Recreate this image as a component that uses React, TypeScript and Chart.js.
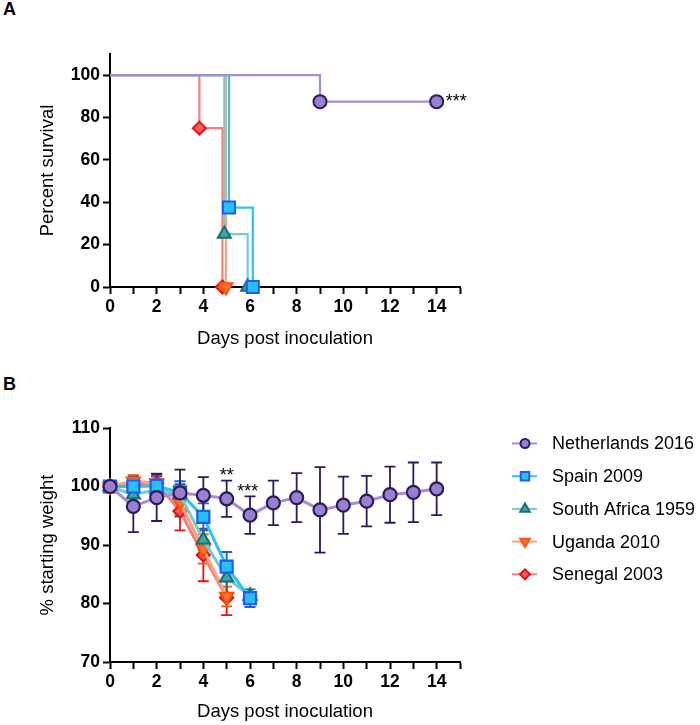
import React, { useEffect, useRef } from 'react';
import { Chart, registerables } from 'chart.js';
import { drawPoint } from 'chart.js/helpers';

Chart.register(...registerables);

const FONT = '"Liberation Sans", Arial, Helvetica, sans-serif';

// ---- Series styling ----
const seriesNames = ['Netherlands 2016', 'Spain 2009', 'South Africa 1959', 'Uganda 2010', 'Senegal 2003'];
const lineColors = ['#a68bd9', '#2cc4f4', '#74cdcc', '#ffa27c', '#f77c7c'];
const markerFills = ['#9a7fd0', '#27c0f4', '#3ea6a9', '#ff7433', '#f65c5c'];
const markerEdges = ['#2c1b5c', '#1f5cf0', '#17717a', '#ff5208', '#ec1212'];
const pointStyles = ['circle', 'rect', 'triangle', 'triangle', 'rectRot'];
const pointRotations = [0, 0, 0, 180, 0];
const pointRadiiA = [6.5, 8.5, 7.5, 7.5, 6.5];
const pointRadiiB = [6.5, 8.5, 7.5, 7.5, 6.5];

// ---- Panel A: survival (Kaplan-Meier steps) ----
const survDaysNetherlands = [0, 9, 14];
const survPctNetherlands = [100, 87.5, 87.5];
const survDaysSpain = [0, 5.1, 6.12];
const survPctSpain = [100, 37.5, 0];
const survDaysSouthAfrica = [0, 4.9, 5.9];
const survPctSouthAfrica = [100, 25, 0];
const survDaysUganda = [0, 4.97];
const survPctUganda = [100, 0];
const survDaysSenegal = [0, 3.83, 4.82];
const survPctSenegal = [100, 75, 0];

const survStarDays = [14];
const survStarLevels = [87.5];
const survStarLabels = ['***'];

// ---- Panel B: weight (mean ± SD) ----
const weightDays = [0, 1, 2, 3, 4, 5, 6, 7, 8, 9, 10, 11, 12, 13, 14];
const weightNetherlands = [100, 96.6, 98.1, 98.9, 98.5, 97.9, 95.1, 97.2, 98.1, 96.0, 96.8, 97.5, 98.6, 99.0, 99.6];
const sdNetherlands = [0, 4.4, 4.0, 4.0, 3.1, 3.1, 3.2, 3.8, 4.2, 7.3, 4.9, 4.3, 4.8, 5.1, 4.5];
const weightSpain = [100, 100.0, 100.1, 99.0, 94.8, 86.3, 80.9];
const sdSpain = [0, 1.7, 1.6, 1.9, 2.3, 2.5, 1.5];
const weightSouthAfrica = [100, 98.6, 99.5, 98.6, 90.9, 84.4, 81.3];
const sdSouthAfrica = [0, 1.5, 1.2, 1.8, 1.8, 2.6, 0.6];
const weightUganda = [100, 100.9, 100.6, 97.3, 89.3, 81.2];
const sdUganda = [0, 1.0, 1.2, 2.0, 2.5, 1.7];
const weightSenegal = [100, 100.4, 100.6, 95.8, 88.3, 81.0];
const sdSenegal = [0, 1.5, 1.6, 3.3, 4.5, 3.0];

const weightStarDays = [5, 5.9];
const weightStarLevels = [102.6, 99.9];
const weightStarLabels = ['**', '***'];

const xTickLabels = ['0', '2', '4', '6', '8', '10', '12', '14'];

function pts(xs: number[], ys: number[]) {
  return ys.map((y, i) => ({ x: xs[i], y }));
}

function xAxis(boxHeight: number, titlePadBottom: number) {
  return {
    type: 'linear',
    min: 0,
    max: 15,
    afterBuildTicks: (s: any) => {
      const t = [];
      for (let v = 0; v <= 15; v++) t.push({ value: v });
      s.ticks = t;
    },
    ticks: {
      autoSkip: false,
      maxRotation: 0,
      padding: 3,
      color: '#000',
      font: { family: FONT, size: 17.5, weight: 'bold' },
      callback: (v: number) => (xTickLabels.includes(String(v)) ? String(v) : ''),
    },
    grid: { drawOnChartArea: false, drawTicks: true, tickLength: 7, tickColor: '#000', tickWidth: 2 },
    border: { display: true, color: '#000', width: 2 },
    title: {
      display: true,
      text: 'Days post inoculation',
      color: '#000',
      font: { family: FONT, size: 18.5 },
      padding: { top: 0, bottom: titlePadBottom },
    },
    afterFit: (s: any) => {
      s.height = boxHeight;
    },
  };
}

function yAxis(min: number, max: number, step: number, maxLabel: number, title: string) {
  return {
    type: 'linear',
    min,
    max,
    afterBuildTicks: (s: any) => {
      const t = [];
      for (let v = min; v <= maxLabel + 1e-9; v += step) t.push({ value: v });
      s.ticks = t;
    },
    ticks: {
      padding: 3,
      color: '#000',
      font: { family: FONT, size: 17.5, weight: 'bold' },
    },
    grid: { drawOnChartArea: false, drawTicks: true, tickLength: 7, tickColor: '#000', tickWidth: 2 },
    border: { display: true, color: '#000', width: 2 },
    title: {
      display: true,
      text: title,
      color: '#000',
      font: { family: FONT, size: 18.5 },
      padding: { top: 37, bottom: 0 },
    },
    afterFit: (s: any) => {
      s.width = 110;
    },
  };
}

function starsPlugin(days: number[], levels: number[], labels: string[], align: 'left' | 'center', dx: number, dy: number) {
  return {
    id: 'stars',
    afterDatasetsDraw(chart: any) {
      const { ctx, scales } = chart;
      ctx.save();
      ctx.fillStyle = '#000';
      ctx.font = `18px ${FONT}`;
      ctx.textAlign = align;
      ctx.textBaseline = 'alphabetic';
      labels.forEach((lab, i) => {
        const x = scales.x.getPixelForValue(days[i]) + dx;
        const y = scales.y.getPixelForValue(levels[i]) + dy;
        ctx.fillText(lab, x, y);
      });
      ctx.restore();
    },
  };
}

const errorBarPlugin = {
  id: 'errorBars',
  beforeDatasetsDraw(chart: any) {
    const { ctx, scales } = chart;
    ctx.save();
    for (let d = chart.data.datasets.length - 1; d >= 0; d--) {
      const ds = chart.data.datasets[d];
      const errs: number[] = ds.errors || [];
      ctx.strokeStyle = ds.errorColor;
      ctx.lineWidth = 1.8;
      ds.data.forEach((p: any, i: number) => {
        const e = errs[i];
        if (!e) return;
        const x = scales.x.getPixelForValue(p.x);
        const yt = scales.y.getPixelForValue(p.y + e);
        const yb = scales.y.getPixelForValue(p.y - e);
        ctx.beginPath();
        ctx.moveTo(x, yt);
        ctx.lineTo(x, yb);
        ctx.moveTo(x - 5.5, yt);
        ctx.lineTo(x + 5.5, yt);
        ctx.moveTo(x - 5.5, yb);
        ctx.lineTo(x + 5.5, yb);
        ctx.stroke();
      });
    }
    ctx.restore();
  },
};

const legendPlugin = {
  id: 'sideLegend',
  afterDraw(chart: any) {
    const { ctx } = chart;
    ctx.save();
    seriesNames.forEach((name, i) => {
      const y = 83.5 + i * 32.7;
      ctx.strokeStyle = lineColors[i];
      ctx.lineWidth = 2;
      ctx.beginPath();
      ctx.moveTo(512, y);
      ctx.lineTo(537, y);
      ctx.stroke();
      ctx.fillStyle = markerFills[i];
      ctx.strokeStyle = markerEdges[i];
      ctx.lineWidth = 2;
      drawPoint(
        ctx,
        {
          pointStyle: pointStyles[i],
          radius: [4.5, 6, 5.5, 5.5, 5][i],
          rotation: pointRotations[i],
          borderWidth: 2,
        } as any,
        525,
        y
      );
      ctx.fillStyle = '#000';
      ctx.font = `18px ${FONT}`;
      ctx.textAlign = 'left';
      ctx.textBaseline = 'middle';
      ctx.fillText(name, 552, y + 1);
    });
    ctx.restore();
  },
};

function survivalDataset(i: number, days: number[], pct: number[]) {
  return {
    label: seriesNames[i],
    data: pts(days, pct),
    showLine: true,
    stepped: 'before',
    borderColor: lineColors[i],
    borderWidth: 2.2,
    pointStyle: pointStyles[i],
    pointRotation: pointRotations[i],
    pointRadius: days.map((_, k) => (k === 0 ? 0 : pointRadiiA[i])),
    pointBackgroundColor: markerFills[i],
    pointBorderColor: markerEdges[i],
    pointBorderWidth: 2,
    fill: false,
    clip: false,
  };
}

function weightDataset(i: number, mean: number[], sd: number[]) {
  return {
    label: seriesNames[i],
    data: pts(weightDays, mean),
    errors: sd,
    errorColor: markerEdges[i],
    showLine: true,
    borderColor: lineColors[i],
    borderWidth: 3,
    pointStyle: pointStyles[i],
    pointRotation: pointRotations[i],
    pointRadius: pointRadiiB[i],
    pointBackgroundColor: markerFills[i],
    pointBorderColor: markerEdges[i],
    pointBorderWidth: 2.2,
    fill: false,
    clip: false,
  };
}

export default function App() {
  const refA = useRef<HTMLCanvasElement>(null);
  const refB = useRef<HTMLCanvasElement>(null);

  useEffect(() => {
    document.body.style.margin = '0';
    const chartA = new Chart(refA.current as HTMLCanvasElement, {
      type: 'scatter',
      data: {
        datasets: [
          survivalDataset(0, survDaysNetherlands, survPctNetherlands),
          survivalDataset(1, survDaysSpain, survPctSpain),
          survivalDataset(2, survDaysSouthAfrica, survPctSouthAfrica),
          survivalDataset(3, survDaysUganda, survPctUganda),
          survivalDataset(4, survDaysSenegal, survPctSenegal),
        ] as any,
      },
      options: {
        responsive: false,
        animation: false,
        layout: { padding: { top: 54, right: 240, left: 0, bottom: 0 } },
        plugins: { legend: { display: false }, tooltip: { enabled: false } },
        scales: {
          x: xAxis(73, 10) as any,
          y: yAxis(0, 110, 20, 100, 'Percent survival') as any,
        },
      },
      plugins: [starsPlugin(survStarDays, survStarLevels, survStarLabels, 'left', 9, 5)],
    });

    const chartB = new Chart(refB.current as HTMLCanvasElement, {
      type: 'scatter',
      data: {
        datasets: [
          weightDataset(0, weightNetherlands, sdNetherlands),
          weightDataset(1, weightSpain, sdSpain),
          weightDataset(2, weightSouthAfrica, sdSouthAfrica),
          weightDataset(3, weightUganda, sdUganda),
          weightDataset(4, weightSenegal, sdSenegal),
        ] as any,
      },
      options: {
        responsive: false,
        animation: false,
        layout: { padding: { top: 68, right: 240, left: 0, bottom: 0 } },
        plugins: { legend: { display: false }, tooltip: { enabled: false } },
        scales: {
          x: xAxis(63, 2) as any,
          y: yAxis(70, 110, 10, 110, '% starting weight') as any,
        },
      },
      plugins: [errorBarPlugin, legendPlugin, starsPlugin(weightStarDays, weightStarLevels, weightStarLabels, 'center', 0, 10)],
    });

    return () => {
      chartA.destroy();
      chartB.destroy();
    };
  }, []);

  const letter: React.CSSProperties = {
    position: 'absolute',
    left: 3,
    fontFamily: FONT,
    fontWeight: 'bold',
    fontSize: 18,
    lineHeight: '18px',
    color: '#000',
  };

  return (
    <div style={{ position: 'relative', width: 700, height: 725, background: '#fff' }}>
      <div style={{ ...letter, top: 0 }}>A</div>
      <div style={{ ...letter, top: 375 }}>B</div>
      <canvas ref={refA} width={700} height={360} style={{ position: 'absolute', left: 0, top: 0, display: 'block' }} />
      <canvas ref={refB} width={700} height={365} style={{ position: 'absolute', left: 0, top: 360, display: 'block' }} />
    </div>
  );
}
